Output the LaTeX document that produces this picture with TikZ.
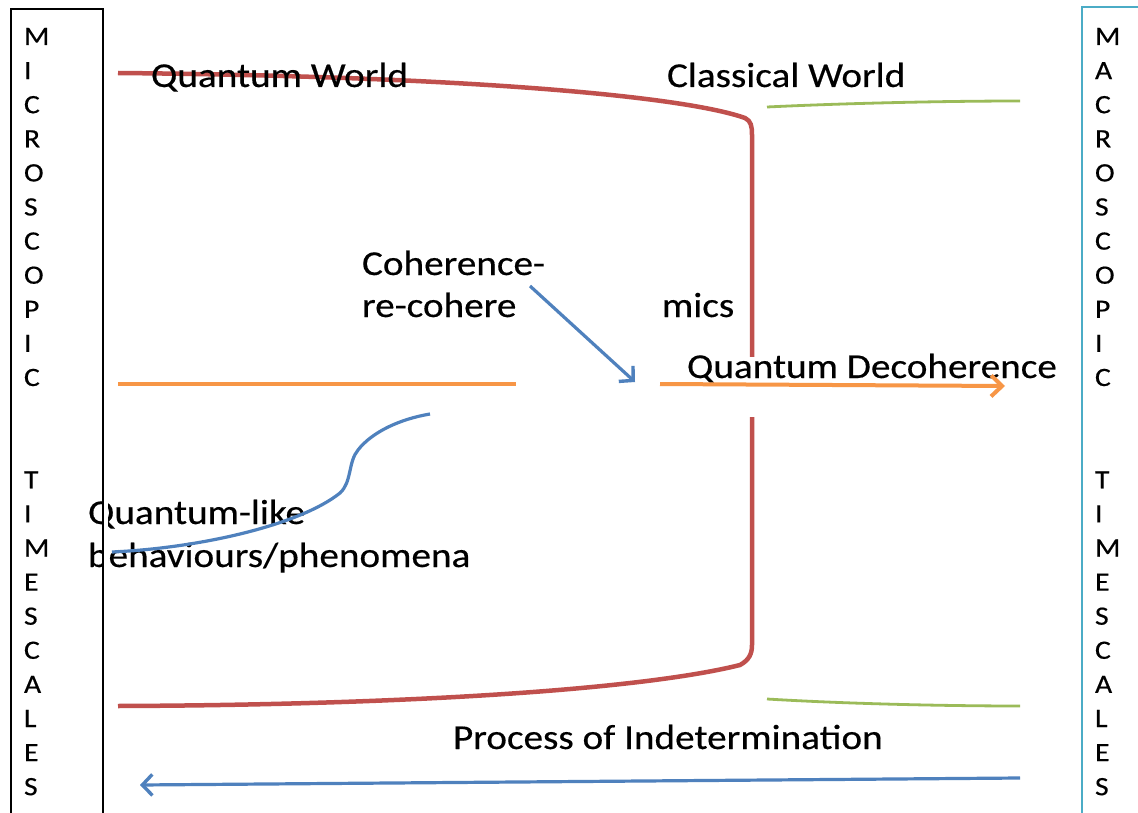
\documentclass[tikz,border=0pt]{standalone}
\usepackage{fontspec}
\setmainfont{Carlito}[FakeStretch=1.12,FakeBold=0.4]
\usetikzlibrary{arrows.meta}
\definecolor{qred}{HTML}{C0504D}
\definecolor{qgreen}{HTML}{9BBB59}
\definecolor{qorange}{HTML}{F79646}
\definecolor{qblue}{HTML}{4F81BD}
\definecolor{qcyan}{HTML}{4BACC6}
\begin{document}
\begin{tikzpicture}[x=1pt,y=-1pt,
  lbl/.style={inner sep=0pt,outer sep=0pt,anchor=base west,font=\fontsize{35}{42.5}\selectfont},
  vlet/.style={inner sep=0pt,outer sep=0pt,anchor=base west,font=\fontsize{26.5}{34}\selectfont},
  redline/.style={draw=qred,line width=4.5pt},
  greenline/.style={draw=qgreen,line width=2.8pt},
  orangeline/.style={draw=qorange,line width=4pt},
  blueline/.style={draw=qblue,line width=3.2pt},
  chev/.style={-{Straight Barb[length=10pt,width=21pt,line width=3.4pt]}}]
\useasboundingbox (0,0) rectangle (1138,813);
\fill[white] (0,0) rectangle (1138,813);

% coordinates
\coordinate (rA) at (118,73);
\coordinate (rB) at (745,118);
\coordinate (rC) at (752,135);
\coordinate (rD) at (752,645);
\coordinate (rE) at (740,665);
\coordinate (rF) at (118,706);

% red boundary
\draw[redline] (rA) .. controls (450,76) and (680,95) .. (rB)
  .. controls (751,121) and (752,126) .. (rC) -- (rD)
  .. controls (752,654) and (749,660) .. (rE)
  .. controls (640,690) and (400,705) .. (rF);

% green lines
\coordinate (gA) at (767,107);
\coordinate (gB) at (1020,101);
\coordinate (gC) at (767,699);
\coordinate (gD) at (1020,706);
\draw[greenline] (gA) .. controls (850,103) and (950,101) .. (gB);
\draw[greenline] (gC) .. controls (850,704) and (950,706) .. (gD);

% white cover behind Quantum Decoherence
\fill[white] (680,357) rectangle (1060,417);

% texts
\node[lbl] (qw) at (151,87) {Quantum World};
\node[lbl] (cw) at (667,87) {Classical World};
\node[lbl] (coh1) at (362,275) {Coherence-};
\node[lbl] (coh2) at (362,317) {re-cohere};
\node[lbl] (coh3) at (662,317) {mics};
\node[lbl] (qd) at (687,378) {Quantum Decoherence};
\node[lbl] (ql1) at (88,524) {Quantum-like};
\node[lbl] (ql2) at (88,567) {behaviours/phenomena};
\node[lbl] (pi) at (453,749) {Process of Indetermination};

% white strip right of the left box edge
\fill[white] (103.5,490) rectangle (108,580);

% orange line
\coordinate (oA) at (118,384);
\coordinate (oB) at (516,384);
\coordinate (oC) at (660,384);
\coordinate (oD) at (1005,386);
\draw[orangeline] (oA) -- (oB);
\draw[orangeline,-{Straight Barb[length=11pt,width=21pt,line width=4pt]}] (oC) -- (oD);

% blue arrow from coherence label
\coordinate (bA) at (530,286);
\coordinate (bB) at (635,382);
\draw[blueline,chev] (bA) -- (bB);

% blue S curve
\coordinate (sA) at (112,552);
\coordinate (sB) at (340,493);
\coordinate (sC) at (358,450);
\coordinate (sD) at (430,414);
\draw[blueline] (sA) .. controls (200,548) and (300,525) .. (sB)
  .. controls (352,482) and (348,462) .. (sC)
  .. controls (372,432) and (400,419) .. (sD);

% bottom blue arrow
\coordinate (pA) at (1020,778);
\coordinate (pB) at (140,785);
\draw[blueline,chev] (pA) -- (pB);

% left box
\draw[black,line width=1.8pt] (11,9) rectangle (103,830);
\foreach \l [count=\i from 0] in {M,I,C,R,O,S,C,O,P,I,C}
  \node[vlet] (ml\i) at (24,{45+34.1*\i}) {\l};
\foreach \l [count=\i from 0] in {T,I,M,E,S,C,A,L,E,S}
  \node[vlet] (mt\i) at (24,{45+34.1*(13+\i)}) {\l};

% right box
\draw[qcyan,line width=1.5pt] (1082,7) rectangle (1160,830);
\foreach \l [count=\i from 0] in {M,A,C,R,O,S,C,O,P,I,C}
  \node[vlet] (rl\i) at (1095,{45+34.1*\i}) {\l};
\foreach \l [count=\i from 0] in {T,I,M,E,S,C,A,L,E,S}
  \node[vlet] (rt\i) at (1095,{45+34.1*(13+\i)}) {\l};
\end{tikzpicture}
\end{document}
